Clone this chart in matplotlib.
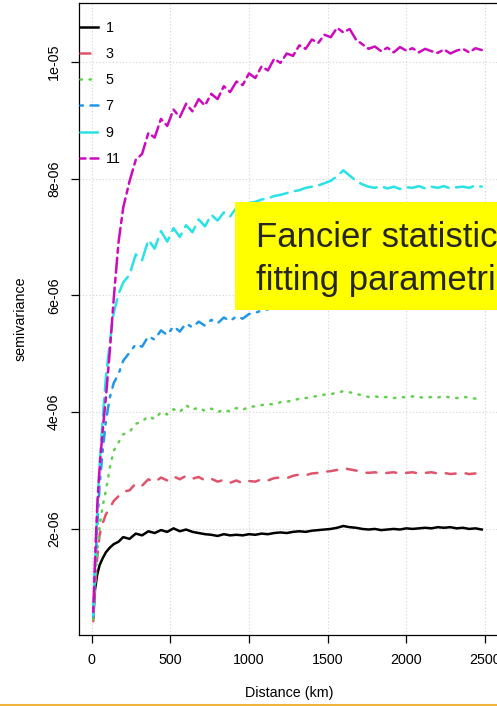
import matplotlib
matplotlib.use("Agg")
import matplotlib.pyplot as plt
from matplotlib.patches import Rectangle
from matplotlib.lines import Line2D

plt.rcParams['font.family'] = ['Liberation Sans', 'DejaVu Sans']

# lag distance (km)
dist = [10, 20, 35, 50, 70, 90, 115, 140, 170, 200,
        240, 280, 320, 360, 400, 440, 480, 520, 560, 600,
        640, 680, 720, 760, 800, 840, 880, 920, 960, 1000,
        1040, 1080, 1120, 1160, 1200, 1240, 1280, 1320, 1360, 1400,
        1440, 1480, 1520, 1560, 1600, 1640, 1680, 1720, 1760, 1800,
        1840, 1880, 1920, 1960, 2000, 2040, 2080, 2120, 2160, 2200,
        2240, 2280, 2320, 2360, 2400, 2440, 2480]

# semivariance, in units of 1e-6
sv_1 = [0.48, 0.95, 1.22, 1.38, 1.50, 1.60, 1.68, 1.74, 1.78, 1.86,
        1.83, 1.92, 1.89, 1.96, 1.93, 1.98, 1.95, 2.01, 1.96, 1.99,
        1.95, 1.93, 1.91, 1.90, 1.88, 1.91, 1.89, 1.90, 1.89, 1.91,
        1.90, 1.92, 1.91, 1.93, 1.94, 1.93, 1.95, 1.96, 1.95, 1.97,
        1.98, 1.99, 2.00, 2.02, 2.05, 2.03, 2.02, 2.00, 1.99, 2.00,
        1.98, 1.99, 2.00, 1.99, 2.01, 2.00, 2.01, 2.02, 2.01, 2.03,
        2.02, 2.03, 2.01, 2.02, 2.00, 2.01, 1.99]
sv_3 = [0.42, 0.92, 1.52, 1.90, 2.10, 2.25, 2.36, 2.48, 2.56, 2.64,
        2.66, 2.78, 2.74, 2.85, 2.80, 2.88, 2.83, 2.90, 2.85, 2.91,
        2.86, 2.89, 2.83, 2.86, 2.81, 2.84, 2.79, 2.83, 2.78, 2.82,
        2.81, 2.85, 2.83, 2.87, 2.88, 2.87, 2.91, 2.93, 2.92, 2.95,
        2.96, 2.98, 2.99, 3.01, 3.04, 3.02, 3.00, 2.97, 2.96, 2.97,
        2.95, 2.96, 2.97, 2.95, 2.96, 2.97, 2.95, 2.96, 2.97, 2.95,
        2.96, 2.94, 2.95, 2.96, 2.94, 2.95, 2.94]
sv_5 = [0.45, 1.02, 1.62, 2.05, 2.40, 2.66, 3.05, 3.34, 3.48, 3.62,
        3.66, 3.80, 3.84, 3.93, 3.88, 4.00, 3.96, 4.05, 4.00, 4.12,
        4.04, 4.08, 4.02, 4.06, 4.00, 4.04, 4.01, 4.07, 4.04, 4.09,
        4.10, 4.12, 4.14, 4.13, 4.17, 4.18, 4.20, 4.23, 4.24, 4.26,
        4.28, 4.30, 4.31, 4.33, 4.36, 4.34, 4.31, 4.29, 4.26, 4.27,
        4.25, 4.26, 4.24, 4.26, 4.25, 4.27, 4.26, 4.24, 4.26, 4.25,
        4.27, 4.25, 4.24, 4.26, 4.25, 4.23, 4.24]
sv_7 = [0.50, 1.25, 2.05, 2.75, 3.35, 3.85, 4.25, 4.50, 4.65, 4.88,
        5.02, 5.16, 5.12, 5.30, 5.24, 5.40, 5.32, 5.47, 5.38, 5.52,
        5.45, 5.55, 5.48, 5.58, 5.52, 5.62, 5.56, 5.64, 5.60, 5.68,
        5.70, 5.74, 5.76, 5.80, 5.83, 5.86, 5.90, 5.94, 5.97, 6.00,
        6.05, 6.08, 6.12, 6.15, 6.20, 6.18, 6.12, 6.05, 6.02, 6.00,
        6.01, 5.98, 6.00, 5.97, 5.99, 6.00, 5.98, 5.99, 6.01, 5.98,
        6.00, 5.99, 5.97, 6.00, 5.98, 5.99, 5.98]
sv_9 = [0.52, 1.32, 2.30, 3.10, 3.90, 4.60, 5.20, 5.70, 6.02, 6.22,
        6.35, 6.70, 6.60, 6.95, 6.80, 7.10, 6.92, 7.15, 7.00, 7.20,
        7.08, 7.30, 7.18, 7.38, 7.28, 7.42, 7.35, 7.50, 7.45, 7.58,
        7.60, 7.64, 7.66, 7.70, 7.72, 7.75, 7.78, 7.80, 7.84, 7.86,
        7.88, 7.92, 7.96, 8.04, 8.14, 8.05, 7.96, 7.90, 7.86, 7.84,
        7.87, 7.83, 7.86, 7.82, 7.85, 7.84, 7.87, 7.83, 7.86, 7.84,
        7.87, 7.83, 7.85, 7.86, 7.84, 7.88, 7.86]
sv_11 = [0.58, 1.40, 2.40, 3.05, 3.70, 4.25, 5.05, 5.95, 6.90, 7.50,
         7.95, 8.32, 8.42, 8.78, 8.70, 9.02, 8.90, 9.18, 9.05, 9.28,
         9.15, 9.36, 9.25, 9.45, 9.36, 9.58, 9.48, 9.66, 9.60, 9.80,
         9.72, 9.92, 9.85, 10.05, 9.98, 10.14, 10.10, 10.28, 10.22, 10.38,
         10.32, 10.46, 10.42, 10.58, 10.50, 10.56, 10.38, 10.30, 10.22, 10.26,
         10.18, 10.24, 10.16, 10.25, 10.19, 10.23, 10.16, 10.22, 10.18, 10.15,
         10.21, 10.14, 10.19, 10.22, 10.16, 10.23, 10.20]

labels = ['1', '3', '5', '7', '9', '11']
series = [sv_1, sv_3, sv_5, sv_7, sv_9, sv_11]
colors = ['black', '#DF536B', '#61D04F', '#2297E6', '#28E2E5', '#CD0BBC']
# R line types 1..6
styles = ['-', (0, (4, 4)), (0, (0.6, 3)), (0, (1, 3, 4, 3)), (0, (7, 3)), (0, (2, 2, 6, 2))]

xticks = [0, 500, 1000, 1500, 2000, 2500]
yticks = [2e-6, 4e-6, 6e-6, 8e-6, 1e-5]
ytick_labels = ['2e-06', '4e-06', '6e-06', '8e-06', '1e-05']

fig = plt.figure(figsize=(4.97, 7.06), dpi=100)
ax = fig.add_axes([79/497, 71/706, 421/497, 632/706])

for lab, vals, c, ls in zip(labels, series, colors, styles):
    ax.plot(dist, [v * 1e-6 for v in vals], color=c, linestyle=ls, lw=1.8,
            dash_capstyle='round', label=lab)

ax.set_xlim(-81, 2596)
ax.set_ylim(0.184e-6, 11.005e-6)
ax.set_xticks(xticks)
ax.set_yticks(yticks)
ax.set_yticklabels(ytick_labels, rotation=90, va='center')
ax.grid(color='#d3d3d3', linestyle=(0, (1, 2)), lw=0.8)
ax.set_axisbelow(True)
for s in ax.spines.values():
    s.set_linewidth(0.9)
ax.tick_params(direction='out', length=6, width=0.9, labelsize=10.3, pad=7)
ax.set_xlabel('Distance (km)', fontsize=10.3, labelpad=14)
ax.set_ylabel('semivariance', fontsize=10.3, labelpad=14)

ax.legend(loc='upper left', bbox_to_anchor=(80/497, 1 - 21/706), bbox_transform=fig.transFigure,
          frameon=False, fontsize=10.3, handlelength=1.25, handletextpad=0.55,
          labelspacing=0.85, borderpad=0, borderaxespad=0)

# yellow callout box over the plot
fig.add_artist(Rectangle((235/497, 396/706), 270/497, 108/706, transform=fig.transFigure,
                         facecolor='#FFFF00', edgecolor='none', zorder=5))
fig.text(256/497, 1 - 247/706, 'Fancier statistics:', fontsize=25, color='#262626',
         va='baseline', zorder=6)
fig.text(256/497, 1 - 290/706, 'fitting parametric models', fontsize=25, color='#262626',
         va='baseline', zorder=6)

fig.add_artist(Line2D([0, 1], [1.5/706, 1.5/706], transform=fig.transFigure,
                      color='#F0B43C', lw=1.5))

fig.savefig('out.png', dpi=100)
